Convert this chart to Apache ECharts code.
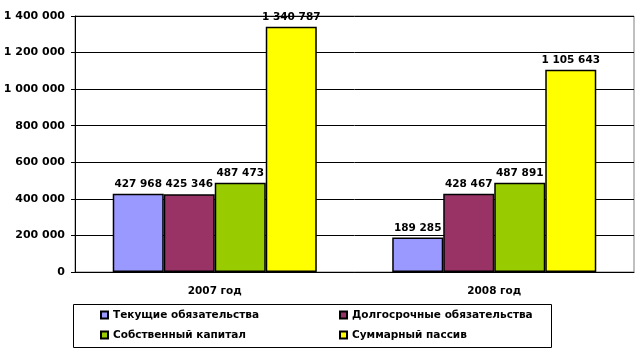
<!DOCTYPE html>
<html>
<head>
<meta charset="utf-8">
<script src="https://cdn.jsdelivr.net/npm/echarts@6/dist/echarts.min.js"></script>
<style>
  html, body { margin: 0; padding: 0; background: #fff; }
  #main { width: 638px; height: 352px; }
</style>
</head>
<body>
<div id="main"></div>
<script>
const years = ['2007 год', '2008 год'];
const seriesNames = ['Текущие обязательства', 'Долгосрочные обязательства', 'Собственный капитал', 'Суммарный пассив'];
const current = [427968, 189285];
const longTerm = [425346, 428467];
const equity = [487473, 487891];
const total = [1340787, 1105643];
const colors = ['#9999FF', '#993366', '#99CC00', '#FFFF00'];

function fmt(v) {
    return String(v).replace(/\B(?=(\d{3})+(?!\d))/g, ' ');
}

const font = { fontFamily: 'DejaVu Sans', fontWeight: 'bold', fontSize: 11, color: '#000' };
const smallFont = Object.assign({}, font, { fontSize: 10.5 });

// легенда в две колонки
function legendCol(left, names) {
    return {
        orient: 'vertical',
        left: left,
        top: 309,
        padding: 0,
        itemWidth: 7,
        itemHeight: 7,
        itemGap: 8,
        itemTextGap: 2,
        icon: 'rect',
        textStyle: Object.assign({ lineHeight: 12 }, smallFont),
        data: names
    };
}

var myChart = echarts.init(document.getElementById('main'));
var option;

option = {
    animation: false,
    grid: { left: 75, right: 4, top: 16, bottom: 80, show: true, borderColor: '#808080', borderWidth: 1 },
    legend: [
        legendCol(100, [seriesNames[0], seriesNames[2]]),
        legendCol(339, [seriesNames[1], seriesNames[3]])
    ],
    graphic: [{
        type: 'rect',
        shape: { x: 73.5, y: 304.5, width: 478, height: 43 },
        style: { fill: 'none', stroke: '#000', lineWidth: 1 }
    }],
    xAxis: {
        type: 'category',
        data: years,
        axisLine: { lineStyle: { color: '#000', width: 1 } },
        axisTick: { lineStyle: { color: '#000' }, length: 5 },
        axisLabel: Object.assign({}, smallFont, { margin: 14 })
    },
    yAxis: {
        type: 'value',
        min: 0,
        max: 1400000,
        interval: 200000,
        axisLine: { show: true, lineStyle: { color: '#000', width: 1 } },
        axisTick: { show: true, lineStyle: { color: '#000' }, length: 4 },
        splitLine: { lineStyle: { color: '#000', width: 1 } },
        axisLabel: Object.assign({}, font, { margin: 10, formatter: fmt })
    },
    series: [current, longTerm, equity, total].map(function (d, i) {
        return {
            name: seriesNames[i],
            type: 'bar',
            data: d,
            barGap: '0%',
            barCategoryGap: '27%',
            itemStyle: { color: colors[i], borderColor: '#000', borderWidth: 1.5 },
            label: Object.assign({ show: true, position: 'top', distance: 4, formatter: function (p) { return fmt(p.value); } }, smallFont)
        };
    })
};

myChart.setOption(option);
</script>
</body>
</html>
